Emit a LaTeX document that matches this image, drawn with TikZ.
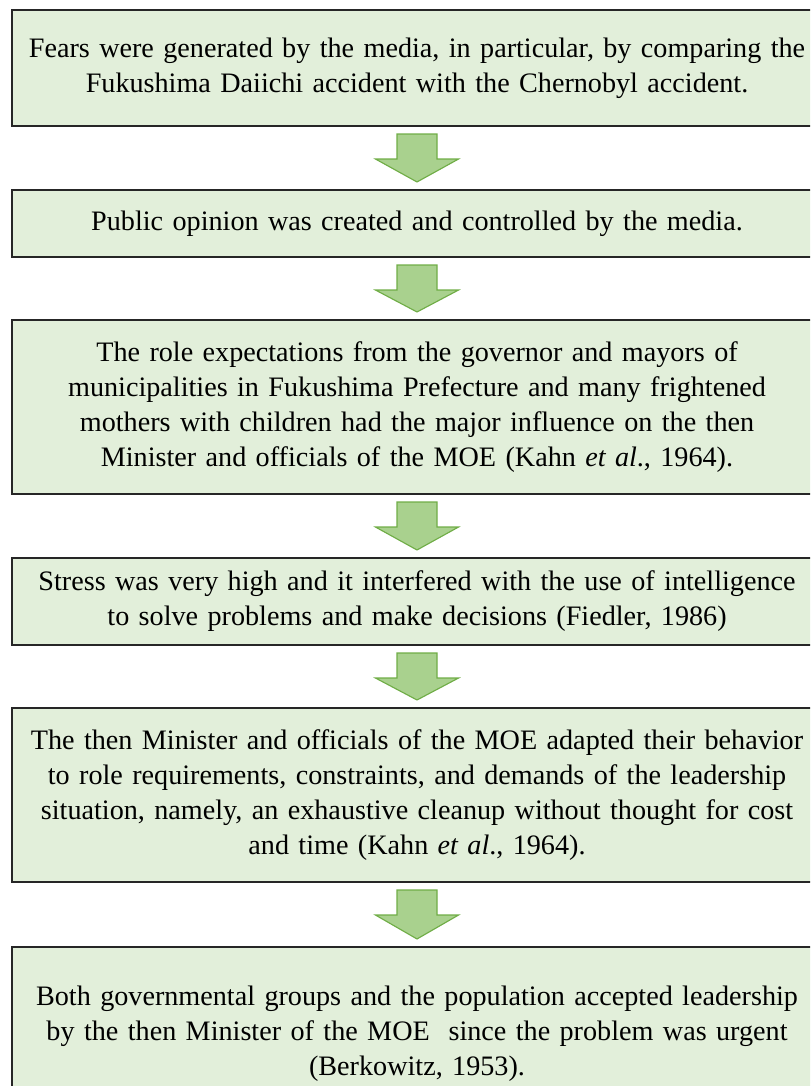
\documentclass[tikz,border=0pt]{standalone}
\usepackage{fontspec}
\setmainfont{Liberation Serif}
\usetikzlibrary{calc}
\definecolor{boxfill}{HTML}{E2EFDA}
\definecolor{arrowfill}{HTML}{A9D18E}
\definecolor{arrowline}{HTML}{70AD47}
\tikzset{
	box/.style={rectangle,draw=black!85,line width=0.9pt,fill=boxfill,align=center,
		text width=352pt,inner xsep=0.8pt,minimum height=#1*0.4367pt,
		font=\fontsize{12.3}{15.3}\selectfont},
	garrow/.style={draw=arrowline,fill=arrowfill,line width=0.5pt,line join=miter}
}
\begin{document}
\begin{tikzpicture}[x=0.4367pt,y=-0.4367pt]%flow of the decision
		\useasboundingbox (0,0) rectangle (810,1086);
		\clip (0,0) rectangle (810,1086);
		\node[box=116] (b1) at (417,68) {Fears were generated by the media, in particular, by comparing the\\Fukushima Daiichi accident with the Chernobyl accident.};
		\node[box=67] (b2) at (417,223.5) {Public opinion was created and controlled by the media.};
		\node[box=174] (b3) at (417,407) {The role expectations from the governor and mayors of\\municipalities in Fukushima Prefecture and many frightened\\mothers with children had the major influence on the then\\Minister and officials of the MOE (Kahn \textit{et al}., 1964).};
		\node[box=87] (b4) at (417,601.5) {Stress was very high and it interfered with the use of intelligence\\to solve problems and make decisions (Fiedler, 1986)};
		\node[box=174] (b5) at (417,795) {The then Minister and officials of the MOE adapted their behavior\\to role requirements, constraints, and demands of the leadership\\situation, namely, an exhaustive cleanup without thought for cost\\and time (Kahn \textit{et al}., 1964).};
		\node[box=174] (b6) at (417,1034) {Both governmental groups and the population accepted leadership\\by the then Minister of the MOE\ \ since the problem was urgent\\(Berkowitz, 1953).};
		\foreach \a/\b in {b1/b2,b2/b3,b3/b4,b4/b5,b5/b6}
		\draw[garrow] ($(\a.south)+(-20,7)$) -- ($(\a.south)+(20,7)$) -- ($(\a.south)+(20,32)$) -- ($(\a.south)+(41.5,32)$) -- ($(\b.north)+(0,-7)$) -- ($(\a.south)+(-41.5,32)$) -- ($(\a.south)+(-20,32)$) -- cycle;
\end{tikzpicture}
\end{document}
